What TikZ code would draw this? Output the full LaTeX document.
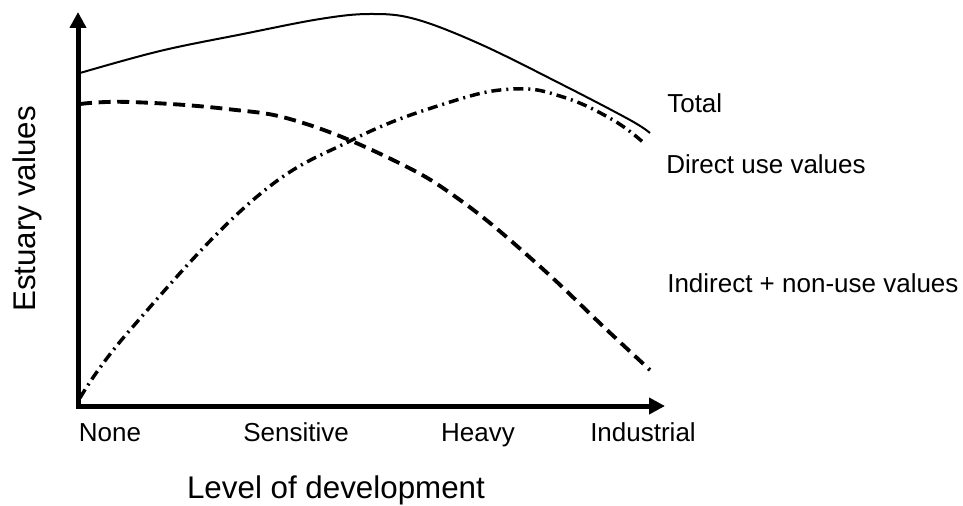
\documentclass[tikz,border=0pt]{standalone}
\usepackage{fontspec}
\setmainfont{Liberation Sans}
\usetikzlibrary{arrows.meta}

\begin{document}
\begin{tikzpicture}[x=0.75pt,y=-0.75pt,>={Triangle[length=12pt,width=12pt]}]

\useasboundingbox (0,0) rectangle (963,506);

\tikzset{
	lbl/.style={font=\fontsize{19.5}{23}\selectfont, inner sep=0pt},
	axlbl/.style={font=\fontsize{23.5}{28}\selectfont, inner sep=0pt},
	axisline/.style={line width=3.75pt, line join=miter},
	totalcurve/.style={line width=1.5pt},
	directcurve/.style={line width=2.9pt, dash pattern=on 9pt off 5pt},
	indirectcurve/.style={line width=2.6pt, dash pattern=on 7.5pt off 3.75pt on 1.5pt off 3.75pt}
}

% Axes corner and ends
\coordinate (origin) at (78,406);
\coordinate (ytop) at (78,12);
\coordinate (xend) at (665,406);

% Curves
\draw[totalcurve] plot[smooth, tension=0.6] coordinates {
	(80,73) (160,51) (243,34) (320,19) (370,14) (415,19)
	(480,44) (563,85) (630,120) (650,133)};
\draw[directcurve] plot[smooth, tension=0.7] coordinates {
	(80,104) (130,102) (227,109) (300,122) (393,160)
	(460,200) (535,262) (607,330) (650,370)};
\draw[indirectcurve] plot[smooth, tension=0.7] coordinates {
	(80,398) (130,330) (253,200) (352,140) (447,103)
	(513,89) (563,97) (613,120) (645,144)};

% Axes
\draw[axisline,<->] (ytop) -- (origin) -- (xend);

% Curve labels
\node[lbl, anchor=base west] (total) at (667,113) {Total};
\node[lbl, anchor=base west] (direct) at (666,173) {Direct use values};
\node[lbl, anchor=base west] (indirect) at (667,292) {Indirect + non-use values};

% Development levels
\foreach \xx/\lab in {110/None,296/Sensitive,478/Heavy,643/Industrial}{
	\node[lbl, anchor=base] (tick\lab) at (\xx,441) {\lab};
}

% Axis titles
\node[axlbl, anchor=base] (xtitle) at (336,498) {Level of development};
\node[axlbl, anchor=base, rotate=90] (ytitle) at (35,209) {Estuary values};
\end{tikzpicture}
\end{document}
